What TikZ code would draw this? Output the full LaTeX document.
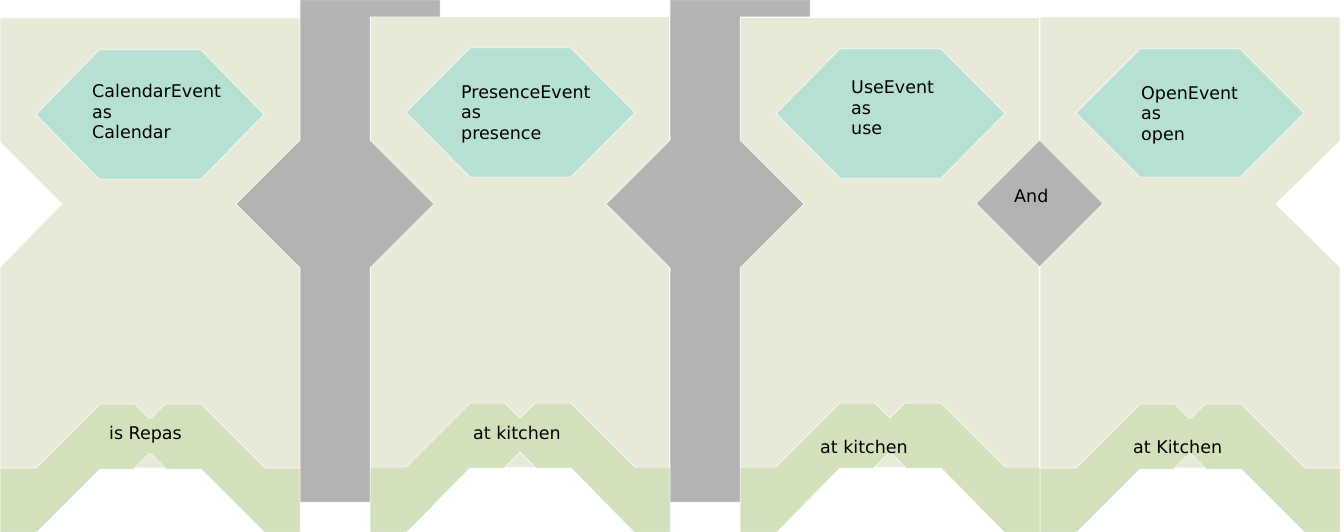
\documentclass[tikz,border=0pt]{standalone}
\usepackage{fontspec}
\setmainfont{DejaVu Sans}
\definecolor{panelc}{RGB}{233,233,218}
\definecolor{hexc}{RGB}{183,224,212}
\definecolor{bandc}{RGB}{210,225,188}
\definecolor{gatec}{RGB}{179,179,179}
\tikzset{
  panel/.style={fill=panelc, draw=white, line width=0.7pt},
  band/.style={fill=bandc, draw=white, line width=0.5pt},
  hexa/.style={fill=hexc, draw=white, line width=0.5pt},
  gate/.style={fill=gatec, draw=white, line width=0.5pt},
  lbl/.style={anchor=base west, inner sep=0pt, align=left, text=black,
    font=\fontsize{17.5pt}{20.6pt}\selectfont},
}
\newcommand{\greenband}[2]{%
  \path[band] (#1,468+#2) -- (#1+36,468+#2) -- (#1+100,404+#2) -- (#1+135,404+#2)
   -- (#1+150,419+#2) -- (#1+165,404+#2) -- (#1+201,404+#2) -- (#1+265,468+#2)
   -- (#1+300,468+#2) -- (#1+300,532) -- (#1+264,532) -- (#1+201,469+#2)
   -- (#1+166,469+#2) -- (#1+150,453+#2) -- (#1+134,469+#2) -- (#1+100,469+#2)
   -- (#1+37,532) -- (#1,532) -- cycle;}
\begin{document}
\begin{tikzpicture}[x=1pt,y=-1pt]
\useasboundingbox (0,0) rectangle (1344,532);
% panels
\path[panel] (0,18) -- (300,18) -- (300,468) -- (0,468) -- (0,267) -- (62,204) -- (0,142) -- cycle;
\path[panel] (370,16) rectangle (669,467);
\path[panel] (740,17) rectangle (1039,467);
\path[panel] (1040,17) -- (1340,17) -- (1340,141) -- (1276,204) -- (1340,267) -- (1340,468) -- (1040,468) -- cycle;
% bands
\greenband{0}{0}
\greenband{370}{-1}
\greenband{740}{-1}
\greenband{1040}{0}
% hexagons
\path[hexa] (36,114.5) -- (99,50) -- (201,50) -- (264,114.5) -- (201,179) -- (99,179) -- cycle;
\path[hexa] (406,112.5) -- (470,48) -- (571,48) -- (635,112.5) -- (571,177) -- (470,177) -- cycle;
\path[hexa] (776,113.5) -- (840,49) -- (941,49) -- (1005,113.5) -- (941,178) -- (840,178) -- cycle;
\path[hexa] (1076,113) -- (1140,49) -- (1240,49) -- (1304,113) -- (1240,177) -- (1140,177) -- cycle;
% gates
\path[gate] (300,0) -- (440,0) -- (440,17) -- (370,17) -- (370,140) -- (434,204) -- (370,268)
  -- (370,502) -- (300,502) -- (300,268) -- (236,204) -- (300,140) -- cycle;
\path[gate] (670,0) -- (810,0) -- (810,17) -- (740,17) -- (740,140) -- (804,204) -- (740,268)
  -- (740,502) -- (670,502) -- (670,268) -- (606,204) -- (670,140) -- cycle;
\path[gate] (1039.5,140) -- (1103,203.5) -- (1039.5,267) -- (976,203.5) -- cycle;
% texts (base anchor = baseline of the last line)
\node[lbl] (cal) at (92,139) {CalendarEvent\\as\\Calendar};
\node[lbl] (pre) at (461,139.5) {PresenceEvent\\as\\presence};
\node[lbl] (use) at (851,135) {UseEvent\\as\\use};
\node[lbl] (ope) at (1141,140.5) {OpenEvent\\as\\open};
\node[lbl] (and) at (1014,202) {And};
\node[lbl] (rep) at (109,439) {is Repas};
\node[lbl] (kit1) at (473,439) {at kitchen};
\node[lbl] (kit2) at (820,453) {at kitchen};
\node[lbl] (kit3) at (1133,453) {at Kitchen};
\end{tikzpicture}
\end{document}
